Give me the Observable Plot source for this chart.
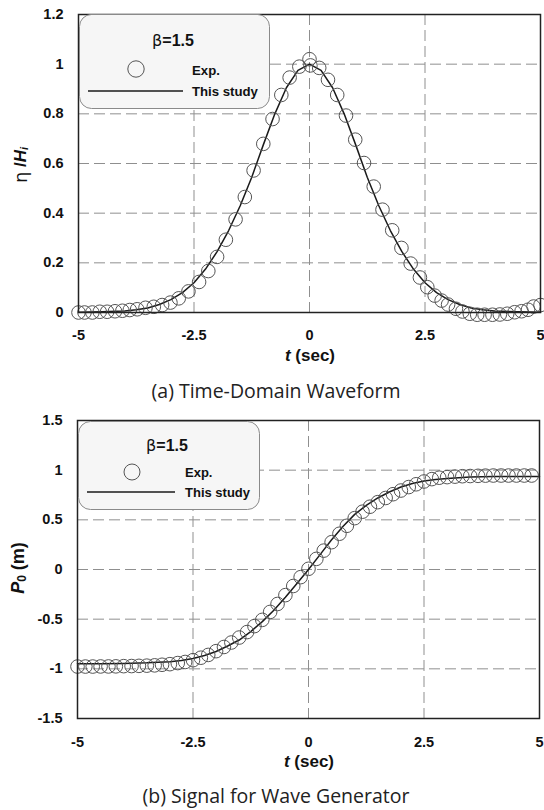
<!DOCTYPE html>
<html>
<head>
<meta charset="utf-8">
<script src="https://cdn.jsdelivr.net/npm/d3@7"></script>
<script src="https://cdn.jsdelivr.net/npm/@observablehq/plot@0.6"></script>
<style>
  html, body { margin: 0; padding: 0; background: #fff; }
  #wrap { position: relative; width: 544px; height: 810px; overflow: hidden; }
  .plot { position: absolute; left: 0; }
  #overlay { position: absolute; left: 0; top: 0; pointer-events: none; }
</style>
</head>
<body>
<div id="wrap">
  <div id="top" class="plot" style="top:0px"></div>
  <div id="bot" class="plot" style="top:400px"></div>
</div>
<script>
// ---------- data ----------
const xTicks = [-5, -2.5, 0, 2.5, 5];
const topYTicks = [0, 0.2, 0.4, 0.6, 0.8, 1, 1.2];
const topGridY = [0.2, 0.4, 0.6, 0.8, 1];
const botYTicks = [-1.5, -1, -0.5, 0, 0.5, 1, 1.5];
const botGridY = [-1, -0.5, 0, 0.5, 1];
const gridXTicks = [-2.5, 0, 2.5];

// (a) experimental surface elevation eta/Hi
const topExpT = [-5,-4.87,-4.70,-4.54,-4.38,-4.21,-4.05,-3.89,-3.73,-3.55,-3.37,-3.19,-3.01,-2.83,-2.62,-2.39,-2.19,-2.0,-1.81,-1.60,-1.40,-1.21,-1.0,-0.80,-0.61,-0.43,-0.22,0,0.02,0.21,0.40,0.60,0.79,0.99,1.18,1.39,1.58,1.79,1.99,2.19,2.39,2.55,2.71,2.86,3.0,3.17,3.31,3.47,3.63,3.79,3.96,4.12,4.28,4.44,4.59,4.73,4.85,5.0];
const topExpY = [0,0,0,0.003,0.003,0.005,0.007,0.01,0.013,0.019,0.023,0.03,0.04,0.057,0.085,0.123,0.167,0.224,0.293,0.375,0.465,0.572,0.679,0.779,0.876,0.946,0.99,1.02,0.995,0.985,0.937,0.876,0.793,0.696,0.602,0.507,0.414,0.331,0.26,0.197,0.141,0.102,0.068,0.048,0.032,0.015,0.004,-0.005,-0.009,-0.009,-0.009,-0.008,-0.005,0.001,0.005,0.011,0.024,0.03];
// (a) this study
const topModelT = [-5,-4.5,-4,-3.75,-3.5,-3.25,-3,-2.75,-2.5,-2.25,-2,-1.75,-1.5,-1.25,-1,-0.75,-0.5,-0.25,0,0.25,0.5,0.75,1,1.25,1.5,1.75,2,2.25,2.5,2.75,3,3.25,3.5,3.75,4,4.5,5];
const topModelY = [0.001,0.003,0.006,0.011,0.018,0.032,0.052,0.08,0.12,0.175,0.245,0.33,0.43,0.545,0.675,0.8,0.905,0.975,1.0,0.975,0.905,0.8,0.675,0.545,0.43,0.33,0.245,0.175,0.12,0.08,0.052,0.032,0.018,0.011,0.006,0.003,0.001];

// (b) experimental wave-maker displacement P0
const botExpT = [-5,-4.83,-4.67,-4.5,-4.33,-4.17,-4,-3.83,-3.67,-3.5,-3.33,-3.17,-3,-2.83,-2.67,-2.5,-2.33,-2.17,-2,-1.83,-1.67,-1.5,-1.33,-1.17,-1,-0.83,-0.67,-0.5,-0.33,-0.17,0,0.17,0.33,0.5,0.67,0.83,1,1.17,1.33,1.5,1.67,1.83,2,2.17,2.33,2.5,2.67,2.83,3,3.17,3.33,3.5,3.67,3.83,4,4.17,4.33,4.5,4.67,4.83];
const botExpY = [-0.977,-0.977,-0.977,-0.976,-0.976,-0.975,-0.973,-0.972,-0.970,-0.968,-0.965,-0.959,-0.953,-0.942,-0.931,-0.913,-0.888,-0.86,-0.822,-0.78,-0.735,-0.685,-0.63,-0.57,-0.507,-0.427,-0.347,-0.258,-0.166,-0.077,0.007,0.107,0.19,0.275,0.36,0.44,0.517,0.582,0.632,0.678,0.72,0.758,0.795,0.83,0.858,0.886,0.91,0.924,0.93,0.935,0.939,0.941,0.943,0.945,0.946,0.946,0.946,0.946,0.946,0.946];
// (b) this study
const botModelT = [-5,-4.5,-4,-3.5,-3,-2.75,-2.5,-2.25,-2,-1.75,-1.5,-1.25,-1,-0.75,-0.5,-0.25,0,0.25,0.5,0.75,1,1.25,1.5,1.75,2,2.25,2.5,2.75,3,3.5,4,4.5,5];
const botModelY = [-0.948,-0.948,-0.946,-0.94,-0.928,-0.915,-0.895,-0.865,-0.825,-0.77,-0.71,-0.625,-0.525,-0.41,-0.28,-0.14,0,0.15,0.3,0.435,0.555,0.645,0.72,0.78,0.83,0.865,0.89,0.905,0.917,0.93,0.935,0.937,0.937];

// ---------- helpers ----------
const zip = (xs, ys) => xs.map((x, i) => ({t: x, v: ys[i]}));
const fmt = d => String(d);
const FONT = "'Liberation Sans', Arial, sans-serif";

function makePlot({height, marginTop, marginBottom, marginLeft, marginRight, yDomain, yTicks, gridY, exp, model, xPad}) {
  return Plot.plot({
    width: 544,
    height,
    marginTop, marginBottom, marginLeft, marginRight,
    style: {fontFamily: FONT, fontSize: "15px", fontWeight: "bold", color: "#111", background: "transparent", overflow: "visible"},
    x: {domain: [-5, 5]},
    y: {domain: yDomain},
    marks: [
      Plot.gridX(gridXTicks, {stroke: "#8f8f8f", strokeOpacity: 1, strokeWidth: 1, strokeDasharray: "11,5"}),
      Plot.gridY(gridY, {stroke: "#8f8f8f", strokeOpacity: 1, strokeWidth: 1, strokeDasharray: "11,5"}),
      Plot.axisX({ticks: xTicks, tickSize: 0, tickPadding: xPad, tickFormat: fmt, label: null, fontSize: 14.5, fontWeight: "bold"}),
      Plot.axisY({ticks: yTicks, tickSize: 0, tickPadding: 15, tickFormat: fmt, label: null, fontSize: 14.5, fontWeight: "bold"}),
      Plot.line(model, {x: "t", y: "v", stroke: "#1a1a1a", strokeWidth: 1.5}),
      Plot.dot(exp, {x: "t", y: "v", r: 6.8, stroke: "#555", strokeWidth: 1, fill: "none"}),
      Plot.frame({stroke: "#222", strokeWidth: 1.5})
    ]
  });
}

document.getElementById("top").append(makePlot({
  height: 370, marginTop: 14, marginBottom: 58, marginLeft: 78, marginRight: 4,
  yDomain: [0, 1.2], yTicks: topYTicks, gridY: topGridY, xPad: 17,
  exp: zip(topExpT, topExpY), model: zip(topModelT, topModelY)
}));
document.getElementById("bot").append(makePlot({
  height: 374, marginTop: 20, marginBottom: 56, marginLeft: 77, marginRight: 5,
  yDomain: [-1.5, 1.5], yTicks: botYTicks, gridY: botGridY, xPad: 18,
  exp: zip(botExpT, botExpY), model: zip(botModelT, botModelY)
}));

// ---------- overlay: axis titles, legends, captions ----------
const NS = "http://www.w3.org/2000/svg";
const ov = document.createElementNS(NS, "svg");
ov.setAttribute("id", "overlay");
ov.setAttribute("width", 544);
ov.setAttribute("height", 810);
ov.innerHTML = `
  <g font-family="${FONT}" font-weight="bold" fill="#111">
    <!-- axis titles -->
    <text x="310" y="355" font-size="17" text-anchor="middle" dominant-baseline="central"><tspan font-style="italic">t</tspan> (sec)</text>
    <text x="309" y="761" font-size="17" text-anchor="middle" dominant-baseline="central"><tspan font-style="italic">t</tspan> (sec)</text>
    <text transform="translate(20,165) rotate(-90)" font-size="17" text-anchor="middle" dominant-baseline="central"><tspan font-weight="normal" font-family="'DejaVu Sans', sans-serif" font-size="18">η</tspan> /<tspan font-style="italic">H</tspan><tspan font-style="italic" font-size="11" dy="4">i</tspan></text>
    <text transform="translate(18,568) rotate(-90)" font-size="18" text-anchor="middle" dominant-baseline="central"><tspan font-style="italic">P</tspan><tspan font-size="12" dy="4">0</tspan><tspan dy="-4"> (m)</tspan></text>

    <!-- legend (a) -->
    <rect x="79.5" y="14.5" width="190" height="94" rx="12" ry="12" fill="#f6f6f6" stroke="#8a8a8a" stroke-width="1"/>
    <text x="173" y="40" font-size="16" text-anchor="middle" dominant-baseline="central"><tspan font-weight="normal" font-family="'DejaVu Sans', sans-serif">β</tspan>=1.5</text>
    <circle cx="136" cy="69" r="8.2" fill="none" stroke="#555" stroke-width="1"/>
    <text x="192" y="70" font-size="13.2" dominant-baseline="central">Exp.</text>
    <line x1="88" x2="183" y1="91" y2="91" stroke="#1a1a1a" stroke-width="1.5"/>
    <text x="192" y="91" font-size="13.2" dominant-baseline="central">This study</text>

    <!-- legend (b) -->
    <rect x="78.5" y="421.5" width="181" height="88" rx="12" ry="12" fill="#f6f6f6" stroke="#8a8a8a" stroke-width="1"/>
    <text x="167" y="445" font-size="16" text-anchor="middle" dominant-baseline="central"><tspan font-weight="normal" font-family="'DejaVu Sans', sans-serif">β</tspan>=1.5</text>
    <circle cx="132" cy="472" r="8" fill="none" stroke="#555" stroke-width="1"/>
    <text x="185" y="472" font-size="13" dominant-baseline="central">Exp.</text>
    <line x1="87" x2="175" y1="492" y2="492" stroke="#1a1a1a" stroke-width="1.5"/>
    <text x="185" y="492" font-size="13" dominant-baseline="central">This study</text>
  </g>
  <g font-family="'Open Sans', 'Noto Sans', sans-serif" font-weight="normal" fill="#222">
    <text x="276" y="390" font-size="19.5" text-anchor="middle" dominant-baseline="central">(a) Time-Domain Waveform</text>
    <text x="276" y="795" font-size="19.5" text-anchor="middle" dominant-baseline="central">(b) Signal for Wave Generator</text>
  </g>`;
document.getElementById("wrap").append(ov);
</script>
</body>
</html>
